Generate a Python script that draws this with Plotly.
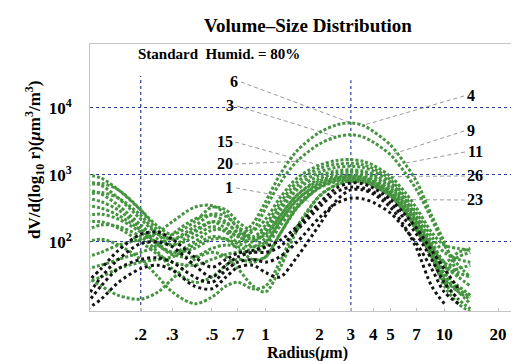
import plotly.graph_objects as go
import math

# ---------------- data ----------------
radius_um = [0.1, 0.12, 0.15, 0.2, 0.25, 0.3, 0.4, 0.5, 0.6, 0.7, 0.85, 1.0,
             1.2, 1.5, 2.0, 2.5, 3.0, 3.5, 4.0, 5.0, 6.0, 7.0, 8.5, 10, 12, 14]

green_a = [700, 750, 600, 300, 150, 110, 150, 200, 160, 120, 190, 400, 1000, 2300, 4300, 5600, 6000, 5500, 4500, 2800, 1500, 800, 250, 100, 30, None]
green_b = [500, 550, 450, 250, 130, 90, 120, 170, 140, 100, 150, 320, 750, 1600, 2900, 3700, 4000, 3700, 3100, 2000, 1100, 600, 220, 90, 45, 30]
green_c = [1000, 900, 600, 300, 170, 130, 200, 330, 300, 200, 150, 220, 450, 900, 1400, 1650, 1700, 1600, 1400, 950, 560, 320, 140, 90, 80, 75]
green_d = [800, 700, 450, 220, 130, 110, 170, 260, 240, 170, 120, 180, 380, 780, 1250, 1450, 1500, 1420, 1250, 850, 480, 270, 120, 70, 55, 50]
green_e = [600, 520, 350, 180, 110, 90, 140, 200, 190, 140, 110, 160, 330, 680, 1100, 1300, 1350, 1300, 1150, 780, 440, 240, 100, 50, 35, 30]
green_f = [450, 400, 300, 160, 90, 70, 100, 150, 150, 120, 100, 140, 290, 600, 980, 1150, 1200, 1150, 1020, 700, 400, 220, 90, 45, 30, 22]
green_g = [350, 320, 250, 150, 95, 70, 80, 110, 110, 95, 85, 115, 240, 500, 820, 960, 1000, 960, 850, 590, 340, 190, 80, 35, 22, 16]
green_h = [250, 260, 220, 140, 90, 65, 60, 80, 90, 85, 75, 95, 200, 430, 720, 860, 900, 870, 770, 540, 310, 170, 70, 30, 18, 12]
green_i = [150, 180, 170, 120, 70, 40, 25, 30, 45, 55, 50, 60, 130, 330, 640, 800, 850, 820, 720, 500, 290, 160, 70, 40, 60, 70]
green_j = [100, 110, 90, 55, 30, 18, 12, 15, 22, 25, 20, 22, 50, 170, 480, 710, 800, 780, 690, 480, 280, 150, 60, 25, 14, 10]
green_k = [60, 70, 90, 110, 140, 200, 330, 350, 260, 160, 110, 130, 240, 500, 880, 1060, 1100, 1060, 940, 650, 370, 200, 85, 50, 70, 80]
green_l = [40, 45, 55, 70, 90, 130, 220, 250, 200, 130, 85, 100, 200, 420, 760, 910, 950, 920, 820, 570, 330, 180, 75, 35, 40, 45]
green_m = [25, 30, 40, 50, 55, 60, 90, 120, 110, 80, 55, 60, 130, 320, 660, 830, 880, 850, 750, 520, 300, 160, 65, 28, 18, 14]
green_n = [30, 22, 16, 14, 18, 28, 55, 70, 60, 40, 22, 18, 40, 150, 490, 720, 820, 800, 700, 490, 280, 150, 60, 22, 12, 9]
green_o = [200, 200, 160, 100, 65, 50, 45, 55, 65, 70, 70, 85, 170, 360, 680, 890, 950, 910, 800, 560, 320, 175, 72, 32, 20, 15]

black_a = [25, 40, 75, 130, 140, 110, 60, 42, 55, 68, 75, 85, 105, 170, 380, 640, 760, 740, 640, 430, 260, 160, 75, 40, 20, None]
black_b = [15, 30, 55, 95, 100, 85, 45, 30, 45, 60, 70, 70, 85, 150, 330, 560, 660, 640, 560, 380, 220, 130, 55, 25, 14, None]
black_c = [12, 22, 40, 55, 58, 50, 30, 25, 38, 50, 55, 50, 60, 100, 230, 380, 450, 440, 390, 270, 160, 95, 40, 18, 12, None]
black_d = [10, 14, 25, 40, 45, 38, 22, 20, 30, 42, 45, 35, 30, 60, 180, 420, 600, 600, 520, 330, 170, 80, 22, 12, None, None]

x_tick_vals = [0.2, 0.3, 0.5, 0.7, 1, 2, 3, 4, 5, 7, 10, 20]
x_tick_text = [".2", ".3", ".5", ".7", "1", "2", "3", "4", "5", "7", "10", "20"]
y_tick_vals = [100, 1000, 10000]
y_tick_text = ["10<sup>2</sup>", "10<sup>3</sup>", "10<sup>4</sup>"]

green_curves = [green_a, green_b, green_c, green_d, green_e, green_f, green_g,
                green_h, green_i, green_j, green_k, green_l, green_m, green_n, green_o]
black_curves = [black_a, black_b, black_c, black_d]

# label text, curve it points to, radius index on that curve
left_labels = [("6", green_a, 16), ("3", green_b, 15), ("15", green_c, 14),
               ("20", green_b, 13), ("1", black_a, 14)]
right_labels = [("4", green_a, 17), ("9", green_b, 19), ("11", green_a, 20),
                ("26", green_c, 19), ("23", black_a, 19)]

# ---------------- styling ----------------
SERIF = "Liberation Serif, Times New Roman, serif"
GREEN = "#45943f"
BLACK = "#141414"
GRID = "#2c3f9c"
W, H = 519, 361
ML, MR, MT, MB = 82, 2, 36, 58
XR = [-0.983, 1.452]
YR = [0.97, 4.955]


def b(s):
    return "<b>" + s + "</b>"


fig = go.Figure()

for ys in green_curves:
    fig.add_trace(go.Scatter(x=radius_um, y=ys, mode="lines",
                             line=dict(color=GREEN, width=3, dash="3px,2px",
                                       shape="spline", smoothing=0.9),
                             hoverinfo="skip", showlegend=False))
for ys in black_curves:
    fig.add_trace(go.Scatter(x=radius_um, y=ys, mode="lines",
                             line=dict(color=BLACK, width=3, dash="3px,3px",
                                       shape="spline", smoothing=0.9),
                             hoverinfo="skip", showlegend=False))

pw = W - ML - MR
ph = H - MT - MB


def px_to_data(px, py):
    fx = (px - ML) / pw
    fy = (H - MB - py) / ph
    return 10 ** (XR[0] + fx * (XR[1] - XR[0])), 10 ** (YR[0] + fy * (YR[1] - YR[0]))


shapes = []
annotations = []
lab_font = dict(family=SERIF, size=16, color="black")

left_pos = [(226, 73), (222, 97), (217, 133), (217, 155), (221, 179)]
for (txt, curve, idx), (lx, ly) in zip(left_labels, left_pos):
    x0, y0 = px_to_data(lx + 7 + 3 * (len(txt) - 1), ly + 1)
    shapes.append(dict(type="line", xref="x", yref="y", x0=x0, y0=y0,
                       x1=radius_um[idx], y1=curve[idx], layer="below",
                       line=dict(color="#9a9a9a", width=1, dash="4px,3px")))
    annotations.append(dict(text=b(txt), xref="paper", yref="paper",
                            x=(lx - ML) / pw, y=(H - MB - ly) / ph,
                            showarrow=False, font=lab_font,
                            xanchor="center", yanchor="middle"))

right_pos = [(463, 87), (463, 122), (467, 143), (467, 167), (467, 191)]
for (txt, curve, idx), (lx, ly) in zip(right_labels, right_pos):
    x0, y0 = px_to_data(lx - 7 - 3 * (len(txt) - 1), ly + 1)
    shapes.append(dict(type="line", xref="x", yref="y", x0=x0, y0=y0,
                       x1=radius_um[idx], y1=curve[idx], layer="below",
                       line=dict(color="#9a9a9a", width=1, dash="4px,3px")))
    annotations.append(dict(text=b(txt), xref="paper", yref="paper",
                            x=(lx - ML) / pw, y=(H - MB - ly) / ph,
                            showarrow=False, font=lab_font,
                            xanchor="center", yanchor="middle"))

# partial vertical reference lines at r = 0.2 and r = 3
for xv, ytop in [(0.2, 30000), (3, 26000)]:
    shapes.append(dict(type="line", xref="x", yref="y", x0=xv, x1=xv,
                       y0=10 ** YR[0], y1=ytop, layer="below",
                       line=dict(color=GRID, width=1.2, dash="dot")))

annotations.append(dict(text=b("Standard  Humid. = 80%"), xref="paper", yref="paper",
                        x=(211 - ML) / pw, y=(H - MB - 46) / ph, showarrow=False,
                        font=dict(family=SERIF, size=15, color="black"),
                        xanchor="center", yanchor="middle"))
annotations.append(dict(text=b("dV/d(log<sub>10</sub> r)(<i>μ</i>m<sup>3</sup>/m<sup>3</sup>)"),
                        xref="paper", yref="paper", x=-(ML - 26) / pw,
                        y=(H - MB - 152) / ph, textangle=-90, showarrow=False,
                        font=dict(family=SERIF, size=17, color="black"),
                        xanchor="center", yanchor="middle"))

tick_font = dict(family=SERIF, size=17, color="black")
axis_font = dict(family=SERIF, size=16, color="black")

fig.update_layout(
    width=W, height=H,
    margin=dict(l=ML, r=MR, t=MT, b=MB, autoexpand=False),
    paper_bgcolor="white", plot_bgcolor="white",
    title=dict(text=b("Volume\u2013Size Distribution"), x=300 / W, xanchor="center",
               y=1 - 17 / H, yanchor="middle",
               font=dict(family=SERIF, size=19, color="black")),
    xaxis=dict(type="log", range=XR, tickvals=x_tick_vals,
               ticktext=[b(t) for t in x_tick_text], automargin=False,
               showgrid=False, zeroline=False, showline=True, linecolor="#c4c4c4",
               mirror=True, ticks="inside", ticklen=3, tickcolor="#c4c4c4",
               tickfont=tick_font, ticklabelstandoff=8,
               title=dict(text=b("Radius(<i>μ</i>m)"), font=axis_font, standoff=2)),
    yaxis=dict(type="log", range=YR, tickvals=y_tick_vals,
               ticktext=[b(t) for t in y_tick_text], automargin=False,
               showgrid=True, gridcolor=GRID, griddash="dot", gridwidth=1.2,
               zeroline=False, showline=True, linecolor="#c4c4c4", mirror=True,
               ticks="", tickfont=tick_font, ticklabelstandoff=14),
    shapes=shapes, annotations=annotations,
)

fig.write_html("out.html")
